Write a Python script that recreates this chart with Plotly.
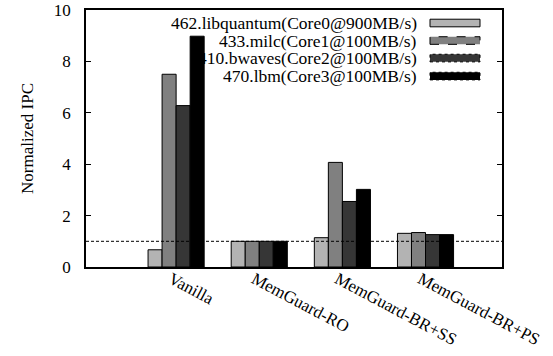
import plotly.graph_objects as go

categories = ["Vanilla", "MemGuard-RO", "MemGuard-BR+SS", "MemGuard-BR+PS"]
series_names = ["462.libquantum(Core0@900MB/s)", "433.milc(Core1@100MB/s)",
                "410.bwaves(Core2@100MB/s)", "470.lbm(Core3@100MB/s)"]
libquantum = [0.67, 1.0, 1.14, 1.31]
milc = [7.5, 1.0, 4.07, 1.34]
bwaves = [6.28, 1.0, 2.55, 1.26]
lbm = [8.98, 1.0, 3.02, 1.26]
series_values = [libquantum, milc, bwaves, lbm]
colors = ["#b3b3b3", "#808080", "#363636", "#000000"]
border_dash = ["solid", "dash", "dot", "dot"]
y_ticks = [0, 2, 4, 6, 8, 10]

FONT = "Liberation Serif"
fig = go.Figure()

# legend text sits behind the bars in the reference
H = 256.7
row_px = [23, 40.5, 58, 76]
for i, (name, col, dsh) in enumerate(zip(series_names, colors, border_dash)):
    yc = (266.7 - row_px[i]) / H
    fig.add_annotation(xref="paper", yref="paper", x=0.80, y=yc, text=name,
                       showarrow=False, xanchor="right", yanchor="middle",
                       font=dict(family=FONT, size=17.5, color="black"))
    fig.add_shape(type="rect", xref="paper", yref="paper",
                  x0=(430 - 86) / 416, x1=(480 - 86) / 416,
                  y0=yc - 3.8 / H, y1=yc + 3.8 / H,
                  fillcolor=col, line=dict(color="black", width=1, dash=dsh))

for name, vals, col in zip(series_names, series_values, colors):
    fig.add_trace(go.Bar(x=categories, y=vals, name=name, marker_color=col,
                         marker_line_color="black", marker_line_width=1,
                         showlegend=False))

# reference line at 1
fig.add_shape(type="line", xref="paper", x0=0, x1=1, yref="y", y0=1, y1=1,
              line=dict(color="black", width=1, dash="3px,2px"))

fig.update_layout(
    width=553, height=356,
    margin=dict(l=86, r=51, t=10, b=89),
    paper_bgcolor="white", plot_bgcolor="white",
    barmode="group", bargap=0.325, bargroupgap=0,
    font=dict(family=FONT, size=17, color="black"),
)
fig.update_xaxes(range=[-1.084, 3.92], showline=True, linecolor="black", linewidth=1.5,
                 mirror=True, ticks="", tickangle=28, tickfont=dict(size=17),
                 ticklabelshift=-5, ticklabelstandoff=-6,
                 showgrid=False, automargin=False)
fig.update_yaxes(range=[0, 10], tickvals=y_ticks, showline=True, linecolor="black",
                 linewidth=1.5, mirror="ticks", ticks="inside", ticklen=5,
                 tickcolor="black", showgrid=False, zeroline=False,
                 ticklabelstandoff=10, automargin=False,
                 title=dict(text="Normalized IPC", font=dict(size=17), standoff=16),
                 tickfont=dict(size=17))

fig.write_html("out.html")
